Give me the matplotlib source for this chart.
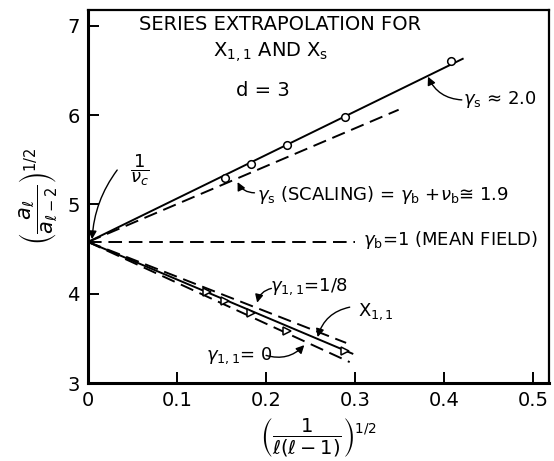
import matplotlib
matplotlib.use("Agg")
import matplotlib.pyplot as plt

# Ratio-method points: circles for X_s, triangles for X_{1,1}
x_circ = [0.408, 0.289, 0.224, 0.183, 0.154]
y_circ = [6.61, 5.98, 5.66, 5.45, 5.30]
x_tri = [0.289, 0.224, 0.183, 0.154, 0.134]
y_tri = [3.36, 3.58, 3.79, 3.92, 4.02]

# Common intercept 1/nu_c and end points of the extrapolation lines
y0 = 4.58
xs_fit_x = [0.0, 0.421]
xs_fit_y = [y0, 6.63]
scaling_x = [0.0, 0.349]
scaling_y = [y0, 6.06]
mean_x = [0.0, 0.30]
mean_y = [y0, y0]
x11_fit_x = [0.0, 0.297]
x11_fit_y = [y0, 3.33]
g18_x = [0.0, 0.290]
g18_y = [y0, 3.45]
g0_x = [0.0, 0.294]
g0_y = [y0, 3.235]

xticks = [0, 0.1, 0.2, 0.3, 0.4, 0.5]
xticklabels = ["0", "0.1", "0.2", "0.3", "0.4", "0.5"]
yticks = [3, 4, 5, 6, 7]

fig = plt.figure(figsize=(5.54, 4.61), dpi=100)
ax = fig.add_axes([0.159, 0.169, 0.832, 0.810])

lw = 1.4
dash = (7, 3.5)
ax.plot(xs_fit_x, xs_fit_y, color="black", lw=lw)
ax.plot(scaling_x, scaling_y, color="black", lw=lw, dashes=dash)
ax.plot(mean_x, mean_y, color="black", lw=lw, dashes=dash)
ax.plot(x11_fit_x, x11_fit_y, color="black", lw=lw)
ax.plot(g18_x, g18_y, color="black", lw=lw, dashes=dash)
ax.plot(g0_x, g0_y, color="black", lw=lw, dashes=dash)

ax.plot(x_circ, y_circ, "o", ms=5.5, mfc="white", mec="black", mew=1.1)
ax.plot(x_tri, y_tri, ">", ms=6, mfc="white", mec="black", mew=1.1)

ax.set_xlim(0, 0.518)
ax.set_ylim(3, 7.18)
ax.set_xticks(xticks)
ax.set_xticklabels(xticklabels)
ax.set_yticks(yticks)
ax.tick_params(direction="in", length=8, width=1.4, labelsize=14, pad=6)
for side in ("left", "bottom"):
    ax.spines[side].set_linewidth(2.2)
for side in ("top", "right"):
    ax.spines[side].set_linewidth(1.6)

ax.set_ylabel(r"$\left(\dfrac{a_\ell}{a_{\ell-2}}\right)^{1/2}$", fontsize=15, labelpad=6)
ax.set_xlabel(r"$\left(\dfrac{1}{\ell(\ell-1)}\right)^{1/2}$", fontsize=14, labelpad=4)

fs = 13
ax.text(0.2152, 7.01, "SERIES EXTRAPOLATION FOR", ha="center", va="center", fontsize=14)
ax.text(0.205, 6.706, r"X$_{1,1}$ AND X$_{\rm s}$", ha="center", va="center", fontsize=14)
ax.text(0.196, 6.28, "d = 3", ha="center", va="center", fontsize=14)

ax.text(0.0586, 5.385, r"$\dfrac{1}{\nu_c}$", ha="center", va="center", fontsize=13)

ax.text(0.421, 6.17, r"$\gamma_{\rm s}$ ≈ 2.0", ha="left", va="center", fontsize=fs)
ax.text(0.190, 5.105, r"$\gamma_{\rm s}$ (SCALING) = $\gamma_{\rm b}$ +$\nu_{\rm b}$≅ 1.9",
        ha="left", va="center", fontsize=fs)
ax.text(0.309, 4.60, r"$\gamma_{\rm b}$=1 (MEAN FIELD)", ha="left", va="center", fontsize=fs)
ax.text(0.204, 4.075, r"$\gamma_{1,1}$=1/8", ha="left", va="center", fontsize=fs)
ax.text(0.303, 3.795, r"X$_{1,1}$", ha="left", va="center", fontsize=fs)
ax.text(0.133, 3.31, r"$\gamma_{1,1}$= 0", ha="left", va="center", fontsize=fs)

arrow = dict(arrowstyle="-|>", color="black", lw=1.0, mutation_scale=12,
             shrinkA=0, shrinkB=0)
def pointer(start, tip, rad):
    ax.annotate("", xy=tip, xytext=start,
                arrowprops=dict(arrow, connectionstyle=f"arc3,rad={rad}"))

pointer((0.0327, 5.385), (0.0045, 4.61), 0.15)
pointer((0.420, 6.17), (0.382, 6.43), -0.3)
pointer((0.187, 5.13), (0.168, 5.25), -0.3)
pointer((0.206, 4.06), (0.190, 3.90), 0.3)
pointer((0.294, 3.85), (0.258, 3.515), 0.3)
pointer((0.200, 3.31), (0.243, 3.425), 0.3)

fig.savefig("out.png", dpi=100)
